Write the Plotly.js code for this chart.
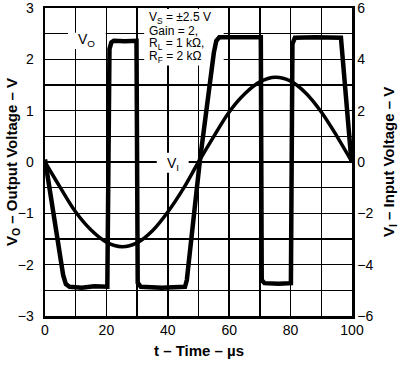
<!DOCTYPE html>
<html>
<head>
<meta charset="utf-8">
<script src="https://cdn.plot.ly/plotly-3.0.1.min.js"></script>
<style>html,body{margin:0;padding:0;background:#fff;}#chart{width:400px;height:367px;}</style>
</head>
<body>
<div id="chart"></div>
<script>
// Output voltage VO (left axis, V) vs time (µs)
const timeVo = [0, 5.9, 6.8, 8, 12, 16, 20.3, 21.0, 21.6, 22.4, 26, 29.8, 30.2, 31.2, 38, 45.6, 46.2, 50.4, 55, 55.8, 56.8, 63, 70.3, 70.6, 71.5, 76, 80.1, 80.6, 81.4, 88, 96.4, 99.8, 100];
const vOut   = [0.05, -2.2, -2.38, -2.43, -2.45, -2.42, -2.43, 2.2, 2.33, 2.36, 2.35, 2.36, -2.35, -2.43, -2.45, -2.43, -2.3, 0, 2.13, 2.36, 2.43, 2.44, 2.43, -2.3, -2.36, -2.37, -2.36, 2.3, 2.42, 2.43, 2.42, 0.02, 0];
// Input voltage VI (right axis, V) vs time (µs)
const timeVi = [0, 5, 10, 15, 20, 25, 30, 35, 40, 45, 50, 55, 60, 65, 70, 75, 80, 85, 90, 95, 100];
const vIn    = [0, -1.0, -1.95, -2.65, -3.12, -3.3, -3.15, -2.68, -1.95, -1.05, 0, 1.0, 1.95, 2.65, 3.12, 3.3, 3.15, 2.68, 1.95, 1.02, 0];
// Tick labels
const xTicks = [0, 20, 40, 60, 80, 100];
const yLeftTicks = [-3, -2, -1, 0, 1, 2, 3];
const yRightTicks = [-6, -4, -2, 0, 2, 4, 6];

const F = "'Liberation Sans', Arial, Helvetica, sans-serif";

const traces = [
  {x: timeVi, y: vIn, yaxis: 'y2', type: 'scatter', mode: 'lines',
   line: {color: '#000', width: 3.5, shape: 'spline'}, hoverinfo: 'skip'},
  {x: timeVo, y: vOut, yaxis: 'y', type: 'scatter', mode: 'lines',
   line: {color: '#000', width: 4.5}, hoverinfo: 'skip'}
];

const gridCol = '#000';
const layout = {
  width: 400, height: 367,
  margin: {l: 45, r: 48, t: 8, b: 51},
  paper_bgcolor: '#fff', plot_bgcolor: '#fff',
  showlegend: false,
  font: {family: F, color: '#000', size: 14},
  xaxis: {
    range: [0, 100], tickvals: xTicks, ticktext: xTicks.map(String),
    showgrid: true, gridcolor: gridCol, gridwidth: 1.5,
    minor: {dtick: 10, tick0: 0, showgrid: true, gridcolor: gridCol, gridwidth: 1.5},
    showline: true, mirror: true, linecolor: '#000', linewidth: 2.5,
    zeroline: false, ticks: '', ticklabeloverflow: 'allow', tickfont: {size: 14, family: F}, fixedrange: true
  },
  yaxis: {
    range: [-3, 3], tickvals: yLeftTicks,
    showgrid: true, gridcolor: gridCol, gridwidth: 1.5,
    minor: {dtick: 0.5, tick0: 0, showgrid: true, gridcolor: gridCol, gridwidth: 1.5},
    showline: true, mirror: true, linecolor: '#000', linewidth: 2.5,
    zeroline: false, ticks: '', ticklabelstandoff: 6, ticklabeloverflow: 'allow', tickfont: {size: 14, family: F}, fixedrange: true
  },
  yaxis2: {
    range: [-6, 6], tickvals: yRightTicks, overlaying: 'y', side: 'right',
    showgrid: false, zeroline: false, showline: true, linecolor: '#000', linewidth: 2.5,
    ticks: '', ticklabeloverflow: 'allow', tickfont: {size: 14, family: F}, fixedrange: true
  },
  shapes: [
    {type: 'rect', xref: 'x', yref: 'y', x0: 32.3, x1: 58.2, y0: 1.88, y1: 2.98, fillcolor: '#fff', line: {width: 0}, layer: 'between'},
    {type: 'rect', xref: 'x', yref: 'y', x0: 7.5, x1: 19.8, y0: 2.2, y1: 2.52, fillcolor: '#fff', line: {width: 0}, layer: 'between'},
    {type: 'rect', xref: 'x', yref: 'y', x0: 36.4, x1: 46.8, y0: -0.21, y1: 0.18, fillcolor: '#fff', line: {width: 0}, layer: 'between'}
  ],
  annotations: [
    {xref: 'paper', yref: 'paper', x: -0.1075, y: 0.5, xanchor: 'center', yanchor: 'middle', textangle: -90, showarrow: false,
     text: '<b>V<sub>O</sub> – Output Voltage – V</b>', font: {size: 15, family: F}},
    {xref: 'paper', yref: 'paper', x: 1.1205, y: 0.5, xanchor: 'center', yanchor: 'middle', textangle: -90, showarrow: false,
     text: '<b>V<sub>I</sub> – Input Voltage – V</b>', font: {size: 15, family: F}},
    {xref: 'paper', yref: 'paper', x: 0.5, y: -0.1106, xanchor: 'center', yanchor: 'middle', showarrow: false,
     text: '<b>t – Time – µs</b>', font: {size: 15, family: F}},
    {xref: 'x', yref: 'y', x: 13.6, y: 2.37, xanchor: 'center', yanchor: 'middle', showarrow: false,
     text: 'V<sub>O</sub>', font: {size: 14, family: F}},
    {xref: 'x', yref: 'y', x: 41.6, y: -0.03, xanchor: 'center', yanchor: 'middle', showarrow: false,
     text: 'V<sub>I</sub>', font: {size: 14, family: F}},
    {xref: 'x', yref: 'y', x: 33.2, y: (162.25 - 18) / 51.25, xanchor: 'left', yanchor: 'middle', showarrow: false,
     text: 'V<sub>S</sub> = ±2.5 V', font: {size: 12, family: F}},
    {xref: 'x', yref: 'y', x: 33.2, y: (162.25 - 31) / 51.25, xanchor: 'left', yanchor: 'middle', showarrow: false,
     text: 'Gain = 2,', font: {size: 12, family: F}},
    {xref: 'x', yref: 'y', x: 33.2, y: (162.25 - 44) / 51.25, xanchor: 'left', yanchor: 'middle', showarrow: false,
     text: 'R<sub>L</sub> = 1 kΩ,', font: {size: 12, family: F}},
    {xref: 'x', yref: 'y', x: 33.2, y: (162.25 - 57) / 51.25, xanchor: 'left', yanchor: 'middle', showarrow: false,
     text: 'R<sub>F</sub> = 2 kΩ', font: {size: 12, family: F}}
  ]
};

Plotly.newPlot('chart', traces, layout, {displayModeBar: false, staticPlot: true});
</script>
</body>
</html>
